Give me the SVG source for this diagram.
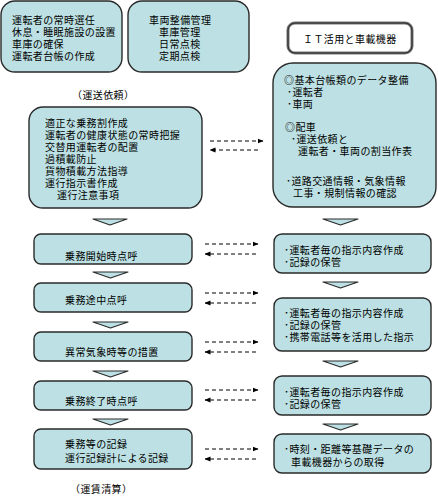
<svg xmlns="http://www.w3.org/2000/svg" width="438" height="499" viewBox="0 0 438 499">
<defs>
<style>
.box{fill:#bce0e3;stroke:#2a2a2a;stroke-width:1.4}
.chev{fill:#bce0e3;stroke:#2a2a2a;stroke-width:1.2;stroke-linejoin:round}
.t{font-family:"Liberation Sans","Noto Sans CJK JP","Noto Sans CJK SC",sans-serif;font-size:10px;fill:#000;letter-spacing:0.4px}
.dash{stroke:#000;stroke-width:1;stroke-dasharray:4 3;fill:none}
</style>
<marker id="ah" viewBox="0 0 6 6" refX="5.5" refY="3" markerWidth="6" markerHeight="6" markerUnits="userSpaceOnUse" orient="auto">
<path d="M0,0.5 L6,3 L0,5.5 Z" fill="#000"/>
</marker>
</defs>
<rect width="438" height="499" fill="#fff"/>

<g id="box-driver">
<rect class="box" x="1" y="1" width="121" height="71" rx="14"/>
<text class="t" x="12" y="24">運転者の常時選任</text>
<text class="t" x="12" y="36">休息・睡眠施設の設置</text>
<text class="t" x="12" y="48">車庫の確保</text>
<text class="t" x="12" y="60">運転者台帳の作成</text>
</g>

<g id="box-vehicle">
<rect class="box" x="128" y="1" width="121" height="71" rx="14"/>
<text class="t" x="149" y="24">車両整備管理</text>
<text class="t" x="159" y="36">車庫管理</text>
<text class="t" x="159" y="48">日常点検</text>
<text class="t" x="159" y="60">定期点検</text>
</g>

<g id="box-it">
<rect x="288" y="23" width="124" height="30" rx="7" fill="#fff" stroke="#777" stroke-width="3"/>
<rect x="288" y="23" width="124" height="30" rx="7" fill="none" stroke="#222" stroke-width="1"/>
<text class="t" x="303" y="43">ＩＴ活用と車載機器</text>
</g>

<g id="label-request">
<text class="t" x="72" y="99">（運送依頼）</text>
</g>

<g id="box-plan">
<rect class="box" x="29" y="107" width="173" height="101" rx="14"/>
<text class="t" x="45" y="127">適正な乗務割作成</text>
<text class="t" x="45" y="139">運転者の健康状態の常時把握</text>
<text class="t" x="45" y="151">交替用運転者の配置</text>
<text class="t" x="45" y="163">過積載防止</text>
<text class="t" x="45" y="175">貨物積載方法指導</text>
<text class="t" x="45" y="187">運行指示書作成</text>
<text class="t" x="57" y="199">運行注意事項</text>
</g>

<g id="box-data">
<rect class="box" x="273" y="63" width="163" height="144" rx="20"/>
<text class="t" x="284" y="84">◎基本台帳類のデータ整備</text>
<text class="t" x="287" y="96">･運転者</text>
<text class="t" x="287" y="108">･車両</text>
<text class="t" x="285" y="131">◎配車</text>
<text class="t" x="291" y="143">･運送依頼と</text>
<text class="t" x="298" y="155">運転者・車両の割当作表</text>
<text class="t" x="286" y="185">･道路交通情報・気象情報</text>
<text class="t" x="293" y="197">工事・規制情報の確認</text>
</g>

<g id="box-start">
<rect class="box" x="34" y="234" width="158" height="30" rx="7"/>
<text class="t" x="65" y="260">乗務開始時点呼</text>
</g>
<g id="box-mid">
<rect class="box" x="34" y="283" width="158" height="29" rx="7"/>
<text class="t" x="65" y="304">乗務途中点呼</text>
</g>
<g id="box-weather">
<rect class="box" x="34" y="332" width="158" height="29" rx="7"/>
<text class="t" x="65" y="356">異常気象時等の措置</text>
</g>
<g id="box-end">
<rect class="box" x="34" y="381" width="158" height="29" rx="7"/>
<text class="t" x="65" y="405">乗務終了時点呼</text>
</g>
<g id="box-record">
<rect class="box" x="34" y="429" width="158" height="40" rx="7"/>
<text class="t" x="65" y="448">乗務等の記録</text>
<text class="t" x="65" y="462">運行記録計による記録</text>
</g>

<g id="box-r1">
<rect class="box" x="274" y="234" width="157" height="39" rx="8"/>
<text class="t" x="284" y="254">･運転者毎の指示内容作成</text>
<text class="t" x="284" y="266">･記録の保管</text>
</g>
<g id="box-r2">
<rect class="box" x="274" y="298" width="157" height="53" rx="8"/>
<text class="t" x="284" y="317">･運転者毎の指示内容作成</text>
<text class="t" x="284" y="329">･記録の保管</text>
<text class="t" x="284" y="341">･携帯電話等を活用した指示</text>
</g>
<g id="box-r3">
<rect class="box" x="274" y="376" width="157" height="39" rx="8"/>
<text class="t" x="284" y="396">･運転者毎の指示内容作成</text>
<text class="t" x="284" y="408">･記録の保管</text>
</g>
<g id="box-r4">
<rect class="box" x="274" y="434" width="157" height="39" rx="8"/>
<text class="t" x="284" y="453">･時刻・距離等基礎データの</text>
<text class="t" x="291" y="466">車載機器からの取得</text>
</g>

<g id="label-fare">
<text class="t" x="70" y="493">（運賃清算）</text>
</g>

<g id="connectors">
<polygon class="chev" points="93,219 127,219 110,225"/>
<polygon class="chev" points="93,272 128,272 110.5,278"/>
<polygon class="chev" points="93,322 128,322 110.5,328"/>
<polygon class="chev" points="93,371 128,371 110.5,377"/>
<polygon class="chev" points="93,419 128,419 110.5,425"/>
<polygon class="chev" points="323,219 358,219 340.5,225"/>
<polygon class="chev" points="323,282 358,282 340.5,288"/>
<polygon class="chev" points="323,361 358,361 340.5,367"/>
<polygon class="chev" points="323,424 358,424 340.5,430"/>

<line class="dash" x1="210" y1="141" x2="263" y2="141" marker-end="url(#ah)"/>
<line class="dash" x1="258" y1="150" x2="210" y2="150" marker-end="url(#ah)"/>
<line class="dash" x1="205" y1="244" x2="258" y2="244" marker-end="url(#ah)"/>
<line class="dash" x1="256" y1="254" x2="205" y2="254" marker-end="url(#ah)"/>
<line class="dash" x1="205" y1="293" x2="258" y2="293" marker-end="url(#ah)"/>
<line class="dash" x1="256" y1="303" x2="205" y2="303" marker-end="url(#ah)"/>
<line class="dash" x1="205" y1="342" x2="258" y2="342" marker-end="url(#ah)"/>
<line class="dash" x1="256" y1="352" x2="205" y2="352" marker-end="url(#ah)"/>
<line class="dash" x1="205" y1="390" x2="258" y2="390" marker-end="url(#ah)"/>
<line class="dash" x1="256" y1="400" x2="205" y2="400" marker-end="url(#ah)"/>
<line class="dash" x1="205" y1="449" x2="258" y2="449" marker-end="url(#ah)"/>
<line class="dash" x1="256" y1="459" x2="205" y2="459" marker-end="url(#ah)"/>
</g>
</svg>
